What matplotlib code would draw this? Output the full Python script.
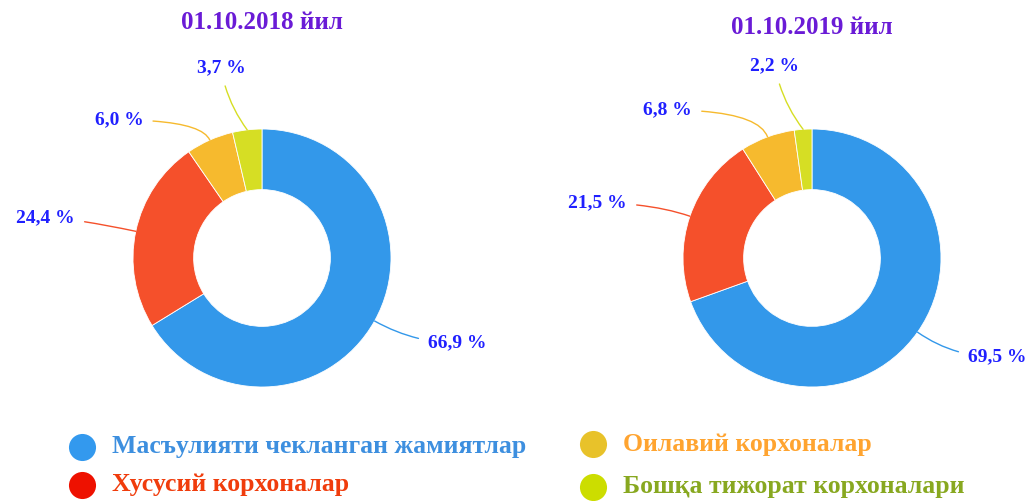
import numpy as np
import matplotlib.pyplot as plt
from matplotlib.lines import Line2D

plt.rcParams['font.family'] = ['Liberation Serif', 'DejaVu Serif']
plt.rcParams['font.weight'] = 'bold'

categories = ["Масъулияти чекланган жамиятлар", "Хусусий корхоналар",
              "Оилавий корхоналар", "Бошқа тижорат корхоналари"]
titles = ["01.10.2018 йил", "01.10.2019 йил"]
shares_2018 = [66.9, 24.4, 6.0, 3.7]
shares_2019 = [69.5, 21.5, 6.8, 2.2]

slice_colors = ["#3398EA", "#F5502B", "#F6BA2E", "#D6DE24"]
marker_colors = ["#3399EE", "#EE1100", "#E8C22A", "#CCDD00"]
legend_text_colors = ["#3D8FDF", "#F03C0C", "#FFA430", "#88A820"]
label_color = "#2020FF"
title_color = "#6A1BD6"

W, H = 1026, 501
R = 129.0  # outer radius in px

# layout per chart: centre (px from left/top), title y, label positions (units of R)
charts = [
    dict(values=shares_2018, title=titles[0], cx=262, cy=258, ty=23,
         labels=[((1.287, -0.659), 'left', 'center'),
                 ((-1.45, 0.31), 'right', 'center'),
                 ((-0.92, 1.07), 'right', 'center'),
                 ((-0.318, 1.473), 'center', 'center')]),
    dict(values=shares_2019, title=titles[1], cx=812, cy=258, ty=28,
         labels=[((1.209, -0.767), 'left', 'center'),
                 ((-1.434, 0.426), 'right', 'center'),
                 ((-0.93, 1.147), 'right', 'center'),
                 ((-0.287, 1.488), 'center', 'center')]),
]

fig = plt.figure(figsize=(W / 100, H / 100), dpi=100)

for i, ch in enumerate(charts):
    x0 = 0 if i == 0 else W / 2
    ax = fig.add_axes([x0 / W, 0, 0.5, 1])
    wedges, _ = ax.pie(ch['values'], colors=slice_colors, startangle=90,
                       counterclock=False, radius=1,
                       wedgeprops=dict(width=0.47, edgecolor='white', linewidth=0.6))
    cxu = (ch['cx'] - x0) / R
    ax.set_xlim(-cxu, (W / 2) / R - cxu)
    ax.set_ylim(-(H - ch['cy']) / R, ch['cy'] / R)
    ax.set_aspect('auto')
    ax.axis('off')
    ax.text(0, (ch['cy'] - ch['ty']) / R, ch['title'], ha='center', va='center',
            fontsize=18, color=title_color, fontweight='bold')
    for w, v, col, (pos, ha, va) in zip(wedges, ch['values'], slice_colors, ch['labels']):
        ang = (w.theta1 + w.theta2) / 2
        edge = (np.cos(np.radians(ang)), np.sin(np.radians(ang)))
        if ha == 'center':
            cs = "arc3,rad=0.12"
        else:
            cs = f"angle3,angleA=0,angleB={ang}"
        ax.annotate(f"{v:.1f}".replace('.', ',') + " %", xy=edge, xytext=pos,
                    ha=ha, va=va, fontsize=14, color=label_color, fontweight='bold',
                    arrowprops=dict(arrowstyle='-', color=col, lw=1,
                                    connectionstyle=cs, shrinkA=5, shrinkB=0))

# legend
lax = fig.add_axes([0, 0, 1, 1])
lax.set_xlim(0, W)
lax.set_ylim(H, 0)
lax.axis('off')
legend_pos = [(82, 447), (82, 485), (593, 444), (593, 487)]
for (mx, my), name, mc, tc in zip(legend_pos, categories, marker_colors, legend_text_colors):
    lax.add_line(Line2D([mx], [my], marker='o', markersize=19.5, color=mc, markeredgewidth=0))
    lax.text(mx + 30, my, name, ha='left', va='center', fontsize=18.5,
             color=tc, fontweight='bold')

fig.savefig("out.png", dpi=100)
